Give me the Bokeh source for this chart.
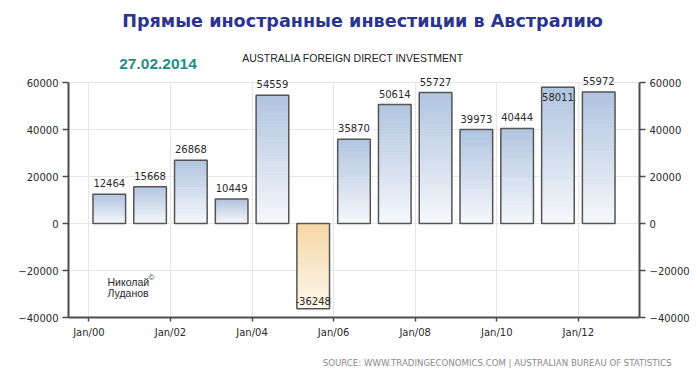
from bokeh.plotting import figure
from bokeh.models import (ColumnDataSource, LinearAxis, FixedTicker, Range1d, Label)
from bokeh.embed import file_html
from bokeh.resources import INLINE
from bokeh.core.properties import value

# ---- data ----
years = [2000, 2001, 2002, 2003, 2004, 2005, 2006, 2007, 2008, 2009, 2010, 2011, 2012]
fdi = [12464, 15668, 26868, 10449, 54559, -36248, 35870, 50614, 55727, 39973, 40444, 58011, 55972]
y_ticks = [-40000, -20000, 0, 20000, 40000, 60000]
x_tick_years = [2000, 2002, 2004, 2006, 2008, 2010, 2012]
x_tick_labels = ["Jan/00", "Jan/02", "Jan/04", "Jan/06", "Jan/08", "Jan/10", "Jan/12"]

title_text = "Прямые иностранные инвестиции в Австралию"
subtitle_text = "AUSTRALIA FOREIGN DIRECT INVESTMENT"
date_text = "27.02.2014"
source_text = "SOURCE:  WWW.TRADINGECONOMICS.COM  |  AUSTRALIAN BUREAU  OF  STATISTICS"
author_lines = ["Николай", "Луданов"]

# ---- layout / styling ----
CANVAS_W, CANVAS_H = 697, 374
PLOT_L, PLOT_R, PLOT_T, PLOT_B = 68, 639, 82, 317   # pixel box of the axes area
X_MIN, X_MAX = 1999.5, 2013.5
Y_MIN, Y_MAX = -40000, 60000

AXIS_FONT = "DejaVu Sans"
AXIS_COLOR = "#4d4d4d"
TEXT_COLOR = "#2a2a2a"
BLUE_TOP, BLUE_BOT = (176, 196, 223), (246, 248, 252)
ORNG_TOP, ORNG_BOT = (247, 215, 164), (253, 247, 236)
N_SLICES = 40
BAR_W = 0.8

# the frame covers the whole canvas; axes are pinned to the data box
ppx = (PLOT_R - PLOT_L) / (X_MAX - X_MIN)
ppy = (PLOT_B - PLOT_T) / (Y_MAX - Y_MIN)
x_start = X_MIN - PLOT_L / ppx
x_end = X_MAX + (CANVAS_W - PLOT_R) / ppx
y_start = Y_MIN - (CANVAS_H - PLOT_B) / ppy
y_end = Y_MAX + PLOT_T / ppy

p = figure(width=CANVAS_W, height=CANVAS_H, output_backend="svg", toolbar_location=None,
           x_range=Range1d(x_start, x_end), y_range=Range1d(y_start, y_end), tools="")
p.min_border = 0
p.min_border_left = 0
p.min_border_right = 0
p.min_border_top = 0
p.min_border_bottom = 0
p.title_location = None
p.outline_line_color = None
p.background_fill_color = "white"
p.border_fill_color = "white"


def mix(c0, c1, t):
    return "#%02x%02x%02x" % tuple(int(round(a + (b - a) * t)) for a, b in zip(c0, c1))


# gradient slices for each bar
L, R, B, T, C = [], [], [], [], []
for yr, v in zip(years, fdi):
    xc = yr + 0.5
    for k in range(N_SLICES):
        y0 = v * k / N_SLICES
        y1 = v * (k + 1) / N_SLICES
        if v >= 0:
            t = 1 - (k + 0.5) / N_SLICES
            col = mix(BLUE_TOP, BLUE_BOT, t)
        else:
            t = (k + 0.5) / N_SLICES
            col = mix(ORNG_TOP, ORNG_BOT, t)
        L.append(xc - BAR_W / 2); R.append(xc + BAR_W / 2)
        B.append(min(y0, y1)); T.append(max(y0, y1)); C.append(col)

p.quad(left=L, right=R, bottom=B, top=T, fill_color=C, line_color=C, line_width=0.6)

centers = [yr + 0.5 for yr in years]
bar_src = ColumnDataSource(dict(x=centers, top=[max(v, 0) for v in fdi],
                                bottom=[min(v, 0) for v in fdi]))
p.vbar(x="x", top="top", bottom="bottom", width=BAR_W, source=bar_src,
       fill_color=None, line_color="#555555", line_width=1.5)

# value labels
offsets = []
for v in fdi:
    if v < 0:
        offsets.append(-8)
    elif v > 57000:
        offsets.append(10)
    else:
        offsets.append(-11)
lab_src = ColumnDataSource(dict(x=centers, y=fdi, t=[str(v) for v in fdi], off=offsets))
p.text(x="x", y="y", text="t", y_offset="off", source=lab_src,
       text_align="center", text_baseline="middle", text_font=value(AXIS_FONT),
       text_font_size="10px", text_color=TEXT_COLOR)

# axes
right_axis = LinearAxis()
p.add_layout(right_axis, "right")
p.yaxis[0].fixed_location = X_MIN
right_axis.fixed_location = X_MAX
for ax in [p.yaxis[0], right_axis]:
    ax.ticker = FixedTicker(ticks=y_ticks)
    ax.bounds = (Y_MIN, Y_MAX)
    ax.minor_tick_line_color = None
    ax.major_tick_in = 0
    ax.major_tick_out = 6
    ax.axis_line_color = AXIS_COLOR
    ax.axis_line_width = 2
    ax.major_tick_line_color = AXIS_COLOR
    ax.major_tick_line_width = 1.5
    ax.major_label_text_font = AXIS_FONT
    ax.major_label_text_font_size = "10px"
    ax.major_label_text_color = TEXT_COLOR
    ax.major_label_standoff = 4

xa = p.xaxis[0]
xa.fixed_location = Y_MIN
xa.bounds = (X_MIN, X_MAX)
xa.ticker = FixedTicker(ticks=x_tick_years)
xa.major_label_overrides = {yr: lab for yr, lab in zip(x_tick_years, x_tick_labels)}
xa.minor_tick_line_color = None
xa.major_tick_in = 0
xa.major_tick_out = 4
xa.axis_line_color = AXIS_COLOR
xa.axis_line_width = 2
xa.major_tick_line_color = AXIS_COLOR
xa.major_tick_line_width = 1.5
xa.major_label_text_font = AXIS_FONT
xa.major_label_text_font_size = "10px"
xa.major_label_text_color = TEXT_COLOR
xa.major_label_standoff = 5

p.xgrid.ticker = FixedTicker(ticks=x_tick_years)
p.ygrid.ticker = FixedTicker(ticks=y_ticks)
for g in (p.xgrid[0], p.ygrid[0]):
    g.grid_line_color = "#e6e6e6"
    g.grid_line_width = 1
p.xgrid[0].cross_bounds = (Y_MIN, Y_MAX)
p.ygrid[0].cross_bounds = (X_MIN, X_MAX)


def add_text(txt, x, y, size, font="Liberation Sans", style="normal", color=TEXT_COLOR,
             align="center"):
    # x, y in pixels from the top-left corner of the picture
    p.add_layout(Label(x=x, y=CANVAS_H - y, x_units="screen", y_units="screen", text=txt,
                       text_align=align, text_baseline="middle", text_font=font,
                       text_font_style=style, text_font_size=size, text_color=color))


add_text(title_text, 362, 20, "17.6px", font="DejaVu Sans", style="bold", color="#2b3590")
add_text(subtitle_text, 352.5, 57.5, "10.5px", color="#222222")
add_text(date_text, 157.5, 63.5, "15.5px", style="bold", color="#1f8f86")
add_text(author_lines[0], 107, 281, "10.5px", align="left")
add_text(author_lines[1], 107, 292, "10.5px", align="left")
add_text("©", 148, 276.5, "8px", align="left")
add_text(source_text, 503.5, 362.7, "8.6px", font="DejaVu Sans", color="#8a8a8a")

open("out.html", "w").write(file_html(p, INLINE))
